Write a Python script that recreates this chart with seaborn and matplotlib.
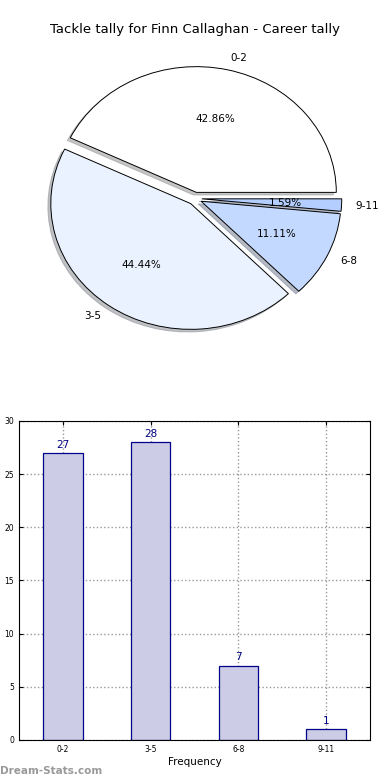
import seaborn as sns
from matplotlib import pyplot as plt

# tally ranges and counts
ranges = ["0-2", "3-5", "6-8", "9-11"]
counts = [27, 28, 7, 1]
pie_colours = ["#FFFFFF", "#EBF2FF", "#C4D9FF", "#B3CEFF"]

fig = plt.figure(figsize=(3.9, 7.8), dpi=100)

# pie on top
ax1 = fig.add_axes([0.051, 0.544, 0.897, 0.403])
ax1.pie(counts, labels=ranges, colors=pie_colours, autopct="%.2f%%",
        explode=[0.05] * 4, shadow={"ox": -0.015, "oy": -0.015, "shade": 0.45},
        startangle=0,
        wedgeprops={"edgecolor": "black", "linewidth": 0.7},
        textprops={"fontsize": 7.5})
ax1.set_aspect("auto")
ax1.set_xlim(-1.25, 1.25)
ax1.set_ylim(-1.25, 1.25)
ax1.set_title("Tackle tally for Finn Callaghan - Career tally", fontsize=9.5, pad=6)

# bars below
ax2 = fig.add_axes([0.0487, 0.0513, 0.9, 0.409])
sns.barplot(x=ranges, y=counts, ax=ax2, color="#CCCCE6", saturation=1,
            width=0.45, edgecolor="#00008B", linewidth=0.9, zorder=2)
for i, c in enumerate(counts):
    ax2.text(i, c + 0.3, str(c), ha="center", va="bottom", color="#000080", fontsize=7.5)
ax2.set_xlim(-0.5, 3.5)
ax2.set_ylim(0, 30)
ax2.set_yticks(range(0, 31, 5))
ax2.grid(True, linestyle=":", color="#999999", linewidth=1.0, zorder=0)
ax2.set_axisbelow(True)
ax2.tick_params(labelsize=5.5, direction="in", length=3, right=True, top=True)
ax2.set_xlabel("Frequency", fontsize=7.5, labelpad=2)
ax2.set_ylabel("Statistic Tally", fontsize=7.5)

fig.text(0.0, 0.005, "Dream-Stats.com", color="#999999", fontsize=7.5,
         fontweight="bold", ha="left", va="bottom")

fig.savefig("out.png", dpi=100)
